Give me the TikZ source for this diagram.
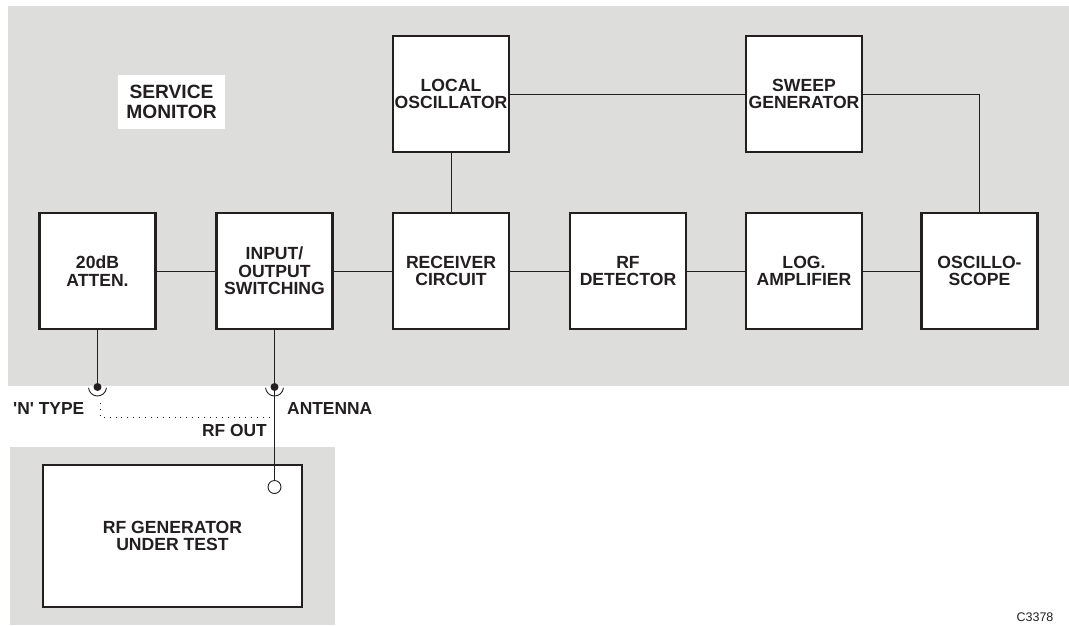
\documentclass[tikz,border=0pt]{standalone}
\usepackage{fontspec}
\setmainfont{Liberation Sans}
\definecolor{panel}{RGB}{221,221,219}
\definecolor{ink}{RGB}{35,31,32}
\begin{document}
\begin{tikzpicture}[x=1pt,y=-1pt,
  blk/.style={draw=ink,line width=2.2pt,fill=white,minimum width=116pt,minimum height=116pt,inner sep=0pt,
    align=center,font=\fontsize{17.6}{17.3}\selectfont\bfseries,text=ink},
  wire/.style={draw=ink,line width=0.9pt},
  lbl/.style={font=\fontsize{17.4}{17.3}\selectfont\bfseries,text=ink,inner sep=0pt},
  dotline/.style={draw=ink,line width=0.9pt,dash pattern=on 0.9pt off 5pt}]
\useasboundingbox (0,0) rectangle (1069,625);
% panels
\fill[panel] (8,6) rectangle (1069,386);
\fill[panel] (10,447) rectangle (335,625);
% service monitor label
\node[fill=white,minimum width=107pt,minimum height=54pt,align=center,inner sep=0pt,
  font=\fontsize{19.2}{20}\selectfont\bfseries,text=ink] (sm) at (171.5,102) {SERVICE\\MONITOR};
% blocks
\node[blk] (lo) at (451,94) {LOCAL\\OSCILLATOR};
\node[blk] (sg) at (804,94) {SWEEP\\GENERATOR};
\node[blk] (at) at (97.5,271) {20dB\\ATTEN.};
\node[blk] (io) at (274.5,271) {INPUT/\\OUTPUT\\SWITCHING};
\node[blk] (rc) at (451,271) {RECEIVER\\CIRCUIT};
\node[blk] (rd) at (628,271) {RF\\DETECTOR};
\node[blk] (la) at (804,271) {LOG.\\AMPLIFIER};
\node[blk] (os) at (979.5,271) {OSCILLO-\\SCOPE};
\node[blk,minimum width=259pt,minimum height=142pt] (gen) at (172.5,536) {RF GENERATOR\\UNDER TEST};
% connectors
\draw[wire] (lo.east) -- (sg.west);
\draw[wire] (sg.east) -| (os.north);
\draw[wire] (lo.south) -- (rc.north);
\draw[wire] (at.east) -- (io.west);
\draw[wire] (io.east) -- (rc.west);
\draw[wire] (rc.east) -- (rd.west);
\draw[wire] (rd.east) -- (la.west);
\draw[wire] (la.east) -- (os.west);
% sockets
\coordinate (nsock) at (97.5,387);
\coordinate (asock) at (274.5,387);
\node[circle,draw=ink,line width=0.9pt,fill=white,minimum size=13pt,inner sep=0pt] (rfout) at (274.5,487) {};
\draw[wire] (at.south) -- (nsock);
\draw[wire] (io.south) -- (asock);
\draw[wire] (asock) -- (rfout.north);
\fill[ink] (nsock) circle (4pt);
\fill[ink] (asock) circle (4pt);
\draw[wire] ([shift={(5:9)}]nsock) arc[start angle=5,end angle=175,radius=9];
\draw[wire] ([shift={(5:9)}]asock) arc[start angle=5,end angle=175,radius=9];
% dotted alternative link
\coordinate (d1) at (100,403);
\coordinate (d2) at (100,417);
\coordinate (d3) at (272,417);
\draw[dotline] (d1) -- (d2) -- (d3);
% labels
\node[lbl,anchor=west] (nt) at (13,409) {\textquotesingle N\textquotesingle{} TYPE};
\node[lbl,anchor=west] (an) at (287,409) {ANTENNA};
\node[lbl,anchor=east] (ro) at (267,431) {RF OUT};
\node[font=\fontsize{12.5}{13}\selectfont,text=ink,inner sep=0pt] (ref) at (1035,617) {C3378};
\end{tikzpicture}
\end{document}
